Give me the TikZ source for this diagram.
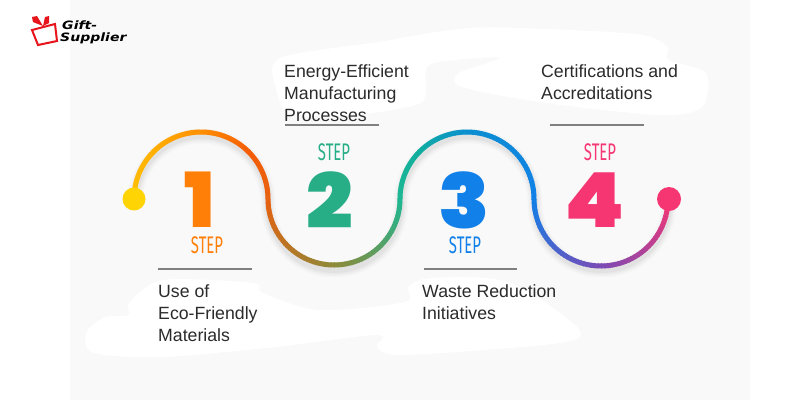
\documentclass[tikz,border=0pt]{standalone}
\usepackage{fontspec}
\setmainfont{Liberation Sans}
\newfontfamily\numfont{Poppins}[UprightFont=* Black]
\newfontfamily\stepfont{Fira Sans}
\newfontfamily\logofont{DejaVu Sans}
\definecolor{bgpanel}{HTML}{F9F9F9}
\definecolor{txt}{HTML}{2B2B2B}
\definecolor{rulegrey}{HTML}{808080}
\definecolor{cOrange}{HTML}{FF7F08}
\definecolor{cGreen}{HTML}{27AE87}
\definecolor{cBlue}{HTML}{1180E8}
\definecolor{cPink}{HTML}{F53673}
\definecolor{cRed}{HTML}{E8141C}
\tikzset{
  lbl/.style={anchor=north west,align=left,inner sep=0pt,text=txt,font=\fontsize{17.7}{22}\selectfont},
  stepword/.style={inner sep=0pt,xscale=0.62,font=\stepfont\fontsize{24}{24}\selectfont},
  numeral/.style={inner sep=0pt,font=\numfont\fontsize{76}{76}\selectfont},
  rulel/.style={draw=rulegrey,line width=1.5pt},
  blob/.style={fill=white,draw=none},
  logotext/.style={inner sep=0pt,anchor=west,xscale=1.22,text=black,font=\logofont\bfseries\itshape\fontsize{11.5}{11.5}\selectfont},
}
\begin{document}
\begin{tikzpicture}[x=1pt,y=-1pt]
\useasboundingbox (0,0) rectangle (800,400);
\fill[white] (0,0) rectangle (800,400);
\fill[bgpanel] (70,0) rectangle (750,400);
% white blobs
\fill[blob] plot[smooth cycle,tension=0.5] coordinates {(280,58) (378,42) (469,28) (570,30) (643,35) (668,47) (668,60) (706,73) (702,107) (660,115) (546,103) (462,87) (459,73) (500,58) (455,60) (427,67) (424,100) (392,110) (340,116) (290,114) (276,88)};
\fill[blob] plot[smooth cycle,tension=0.5] coordinates {(129,303) (163,280) (253,283) (263,293) (319,310) (405,302) (408,287) (432,278) (508,282) (577,327) (560,343) (405,355) (377,347) (377,335) (267,348) (163,357) (94,353) (86,333) (105,317) (129,315)};
% soft shadow of the ribbon
\foreach \w/\o in {15/0.015,12/0.02,9/0.025,6/0.03}{
  \draw[line width=\w pt,black,opacity=\o]
    (135,203) arc[start angle=180,end angle=0,x radius=66.5,y radius=-67]
    arc[start angle=180,end angle=360,x radius=66.5,y radius=-67]
    arc[start angle=180,end angle=0,x radius=67,y radius=-67]
    arc[start angle=180,end angle=360,x radius=67,y radius=-67];
}
% ribbon with colour running along its length
\newcommand{\ribbonarc}[7]{% cx, cy, r, a0, a1, col0, col1
  \foreach \i in {0,...,29}{
    \pgfmathsetmacro{\mix}{100-100*(\i+0.5)/30}
    \pgfmathsetmacro{\aa}{#4+(#5-#4)*\i/30}
    \pgfmathsetmacro{\ab}{#4+(#5-#4)*(\i+1.25)/30}
    \draw[line width=5pt,color={#6!\mix!#7}] ({#1+#3*cos(\aa)},{#2-#3*sin(\aa)}) arc[start angle=\aa,end angle=\ab,x radius=#3,y radius=-#3];
  }}
\definecolor{s0}{HTML}{FFC107}
\definecolor{s1}{HTML}{FFB000}
\definecolor{s2}{HTML}{FF8F00}
\definecolor{s3}{HTML}{F45C05}
\definecolor{s4}{HTML}{E8600F}
\definecolor{s5}{HTML}{8E8A3A}
\definecolor{s6}{HTML}{1DB893}
\definecolor{s8}{HTML}{10AE9F}
\definecolor{s9}{HTML}{0B8FD0}
\definecolor{s10}{HTML}{1180E8}
\definecolor{s12}{HTML}{7B4BB5}
\definecolor{s14}{HTML}{F53673}
\ribbonarc{201}{199}{67}{180}{135}{s0}{s1}
\ribbonarc{201}{199}{67}{135}{90}{s1}{s2}
\ribbonarc{201}{199}{67}{90}{45}{s2}{s3}
\ribbonarc{201}{199}{67}{45}{0}{s3}{s4}
\ribbonarc{334}{199}{66}{180}{270}{s4}{s5}
\ribbonarc{334}{199}{66}{270}{360}{s5}{s6}
\ribbonarc{467}{199}{67}{180}{135}{s6}{s8}
\ribbonarc{467}{199}{67}{135}{90}{s8}{s9}
\ribbonarc{467}{199}{67}{90}{0}{s9}{s10}
\ribbonarc{601}{199}{67}{180}{270}{s10}{s12}
\ribbonarc{601}{199}{67}{270}{360}{s12}{s14}
% end dots
\node[circle,fill=s0!70!yellow,minimum size=23pt,inner sep=0pt] (dotA) at (134,199) {};
\node[circle,fill=cPink,minimum size=24pt,inner sep=0pt] (dotB) at (669,199) {};
% numerals
\node[numeral,text=cOrange] (n1) at (200,200) {1};
\node[numeral,text=cGreen,xscale=1.08] (n2) at (330,200) {2};
\node[numeral,text=cBlue,xscale=1.1] (n3) at (464,200) {3};
\node[numeral,text=cPink,xscale=1.13] (n4) at (595,200) {4};
% step words
\node[stepword,text=cOrange] (s1w) at (207,245) {STEP};
\node[stepword,text=cGreen] (s2w) at (334,152) {STEP};
\node[stepword,text=cBlue] (s3w) at (465,245) {STEP};
\node[stepword,text=cPink] (s4w) at (600,152) {STEP};
% rules
\draw[rulel] (158,269) -- (252,269);
\draw[rulel] (285,125) -- (379,125);
\draw[rulel] (424,269) -- (517,269);
\draw[rulel] (550,125) -- (644,125);
% labels
\node[lbl] (l1) at (158,284) {Use of\\Eco-Friendly\\Materials};
\node[lbl] (l2) at (284,64) {Energy-Efficient\\Manufacturing\\Processes};
\node[lbl] (l3) at (422,284) {Waste Reduction\\Initiatives};
\node[lbl] (l4) at (541,64) {Certifications and\\Accreditations};
% logo
\draw[cRed,line width=2pt,line join=miter] (32,30) -- (55,24) -- (57,41) -- (38,45) -- cycle;
\fill[cRed] (43,26) -- (33,22) -- (32,17) -- (37,16) -- cycle;
\fill[cRed] (43,26) -- (45,17) -- (49,16) -- (49,23) -- cycle;
\node[logotext] (g1) at (62,25) {Gift-};
\node[logotext] (g2) at (60,38) {Supplier};
\end{tikzpicture}
\end{document}
